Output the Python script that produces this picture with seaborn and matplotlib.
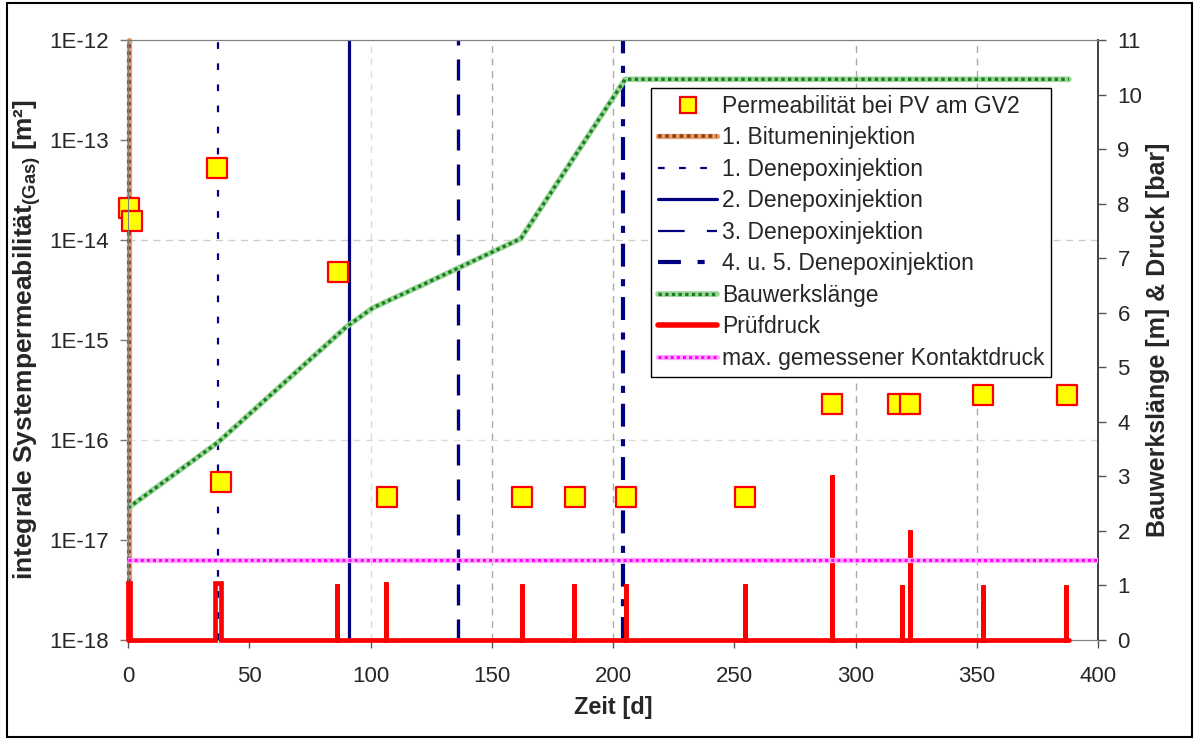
import numpy as np
import pandas as pd
import matplotlib
matplotlib.use("Agg")
import matplotlib.pyplot as plt
import seaborn as sns
from matplotlib.lines import Line2D
from matplotlib.patches import Rectangle
from matplotlib.legend_handler import HandlerTuple
from matplotlib.ticker import FixedLocator, FuncFormatter, NullLocator

# ---------------- data ----------------
perm_days = [0.4, 1.8, 36.6, 38.5, 86.4, 106.6, 162.5, 184.3, 205.4, 254.3,
             290.3, 317.5, 322.5, 352.6, 387.2]
perm_values = [2.1e-14, 1.55e-14, 5.25e-14, 3.8e-17, 4.8e-15, 2.7e-17, 2.7e-17,
               2.7e-17, 2.7e-17, 2.7e-17, 2.29e-16, 2.29e-16, 2.29e-16,
               2.82e-16, 2.82e-16]

bitumen_day = 0.3
denepox_days = [37.1, 91.1, 136.0, 204.0]

bauwerk_days = [0, 37, 90, 101, 120, 162, 205, 388]
bauwerk_len = [2.42, 3.62, 5.74, 6.09, 6.48, 7.36, 10.28, 10.28]

test_start = [0.0, 36.0, 86.0, 106.5, 162.5, 184.0, 205.3, 254.3, 290.2, 319.0, 322.3, 352.6, 387.0]
test_end = [1.0, 38.5, 86.0, 106.5, 162.5, 184.0, 205.3, 254.3, 290.2, 319.0, 322.3, 352.6, 387.0]
test_pressure = [1.05, 1.05, 1.03, 1.07, 1.03, 1.03, 1.03, 1.03, 3.02, 1.0, 2.02, 1.0, 1.0]
pressure_end_day = 388.0

kontakt_max = 1.47

x_ticks = [0, 50, 100, 150, 200, 250, 300, 350, 400]
y_left_ticks = [1e-18, 1e-17, 1e-16, 1e-15, 1e-14, 1e-13, 1e-12]
y_right_ticks = list(range(0, 12))

labels = ["Permeabilität bei PV am GV2", "1. Bitumeninjektion", "1. Denepoxinjektion",
          "2. Denepoxinjektion", "3. Denepoxinjektion", "4. u. 5. Denepoxinjektion",
          "Bauwerkslänge", "Prüfdruck", "max. gemessener Kontaktdruck"]

# ---------------- style ----------------
sns.set_style("white")
plt.rcParams["font.family"] = ["Liberation Sans", "DejaVu Sans"]
plt.rcParams["mathtext.fontset"] = "custom"
plt.rcParams["mathtext.rm"] = "Liberation Sans"
plt.rcParams["mathtext.bf"] = "Liberation Sans:bold"
plt.rcParams["mathtext.it"] = "Liberation Sans:italic"

FS = 16
navy = "#000080"

fig = plt.figure(figsize=(11.99, 7.40), dpi=100)
ax = fig.add_axes([128 / 1199, 1 - 640 / 740, (1098 - 128) / 1199, 600 / 740])
ax2 = ax.twinx()

ax.set_yscale("log")
ax.set_xlim(0, 400)
ax.set_ylim(1e-18, 1e-12)
ax2.set_ylim(0, 11)

# grid (partial, as in reference)
for gx, c in [(100, "#dddddd"), (150, "#aaaaaa"), (200, "#aaaaaa"), (300, "#aaaaaa"), (350, "#aaaaaa")]:
    ax.axvline(gx, color=c, lw=1, ls=(0, (5, 4)), zorder=0)
for gy, c in [(1e-14, "#cccccc"), (1e-16, "#dddddd")]:
    ax.axhline(gy, color=c, lw=1, ls=(0, (5, 4)), zorder=0)

# injection lines (left axis)
ax.axvline(bitumen_day, color="#e0a070", lw=3.8, zorder=2, clip_on=False)
ax.axvline(bitumen_day, color="#9a3c10", lw=2.6, ls=(0, (1, 1)), zorder=2, clip_on=False)
ax.axvline(denepox_days[0], color=navy, lw=1.6, ls=(0, (3, 6.5)), zorder=2)
ax.axvline(denepox_days[1], color=navy, lw=2.3, zorder=2)
ax.axvline(denepox_days[2], color=navy, lw=2.4, ls=(0, (6.3, 4.2)), zorder=2)
ax.axvline(denepox_days[3], color=navy, lw=3.0, ls=(0, (5.5, 2.6, 1.7, 3.0)), zorder=2)

# permeability squares
perm_df = pd.DataFrame({"Zeit": perm_days, "Perm": perm_values})
sns.scatterplot(data=perm_df, x="Zeit", y="Perm", ax=ax, marker="s", s=190,
                color="#ffff00", edgecolor="#ff0000", linewidth=1.6, zorder=5,
                legend=False, clip_on=False)

# right axis lines
bw_df = pd.DataFrame({"Zeit": bauwerk_days, "Laenge": bauwerk_len})
sns.lineplot(data=bw_df, x="Zeit", y="Laenge", ax=ax2, color="#9cd49c", lw=4.0,
             estimator=None, sort=False, legend=False)
sns.lineplot(data=bw_df, x="Zeit", y="Laenge", ax=ax2, color="#15801a", lw=2.4,
             ls=(0, (1, 1)), estimator=None, sort=False, legend=False)

px, py = [], []
for s0, s1, p in zip(test_start, test_end, test_pressure):
    px += [s0, s0, s1, s1]
    py += [0, p, p, 0]
px.append(pressure_end_day)
py.append(0)
ax2.plot(px, py, color="#ff0000", lw=3.4, solid_joinstyle="miter", zorder=3, clip_on=False)

ax2.axhline(kontakt_max, color="#ffaaff", lw=3.8, zorder=4)
ax2.axhline(kontakt_max, color="#ff00ff", lw=2.2, ls=(0, (1, 1)), zorder=4)

# ---------------- axes formatting ----------------
ax.xaxis.set_major_locator(FixedLocator(x_ticks))
ax.yaxis.set_major_locator(FixedLocator(y_left_ticks))
ax.yaxis.set_minor_locator(NullLocator())
ax.yaxis.set_major_formatter(FuncFormatter(lambda v, p: "1E%d" % int(round(np.log10(v)))))
ax2.yaxis.set_major_locator(FixedLocator(y_right_ticks))

ax.tick_params(axis="x", direction="out", length=6, width=1, color="#555555",
               labelsize=FS, pad=13, bottom=True)
ax.tick_params(axis="y", direction="out", length=6, width=1, color="#777777",
               labelsize=FS, pad=8, left=True)
ax2.tick_params(axis="y", direction="out", length=6, width=1, color="#555555",
                labelsize=FS, pad=8, right=True)

for a in (ax, ax2):
    a.spines["top"].set_color("#808080")
    a.spines["bottom"].set_color("#808080")
    a.spines["left"].set_color("#808080")
    a.spines["right"].set_color("#404040")
    a.spines["right"].set_linewidth(1.2)

ax.set_xlabel("Zeit [d]", fontsize=17, fontweight="bold", labelpad=6)
ax.set_ylabel(r"integrale Systempermeabilität$_{\mathbf{(Gas)}}$ [m²]",
              fontsize=19, fontweight="bold")
ax.yaxis.set_label_coords((43 - 128) / 970, 0.5)
ax2.set_ylabel("Bauwerkslänge [m] & Druck [bar]", fontsize=18, fontweight="bold")
ax2.yaxis.set_label_coords((1146 - 128) / 970, 0.5)

# ---------------- legend ----------------
h_perm = Line2D([], [], marker="s", ls="none", markersize=12, markerfacecolor="#ffff00",
                markeredgecolor="#ff0000", markeredgewidth=1.6)
h_bit = (Line2D([], [], color="#e0a070", lw=3.8), Line2D([], [], color="#9a3c10", lw=2.6, ls=(0, (1, 1))))
h_d1 = Line2D([], [], color=navy, lw=1.6, ls=(0, (3, 6.5)))
h_d2 = Line2D([], [], color=navy, lw=2.3)
h_d3 = Line2D([], [], color=navy, lw=1.6, ls=(0, (12, 10)))
h_d4 = Line2D([], [], color=navy, lw=3.0, ls=(0, (5.5, 4, 1.7, 3.0)))
h_bw = (Line2D([], [], color="#9cd49c", lw=4.0), Line2D([], [], color="#15801a", lw=2.4, ls=(0, (1, 1))))
h_pr = Line2D([], [], color="#ff0000", lw=4.0)
h_kt = (Line2D([], [], color="#ffaaff", lw=3.8), Line2D([], [], color="#ff00ff", lw=2.2, ls=(0, (1, 1))))
handles = [h_perm, h_bit, h_d1, h_d2, h_d3, h_d4, h_bw, h_pr, h_kt]

leg = ax2.legend(handles, labels, loc="upper left", bbox_to_anchor=(651 / 1199, 1 - 88 / 740),
                 bbox_transform=fig.transFigure, borderaxespad=0, fontsize=16.5,
                 handler_map={tuple: HandlerTuple(ndivide=1)},
                 frameon=True, fancybox=False, framealpha=1, edgecolor="black",
                 handlelength=2.6, handletextpad=0.2, labelspacing=0.37, borderpad=0.3)
leg.get_frame().set_linewidth(1.0)
leg.set_zorder(10)

# outer frame
fig.patches.append(Rectangle((7 / 1199, 3 / 740), (1192 - 7) / 1199, (737 - 3) / 740,
                             transform=fig.transFigure, fill=False, ec="black", lw=1.5))

fig.savefig("out.png", dpi=100)
